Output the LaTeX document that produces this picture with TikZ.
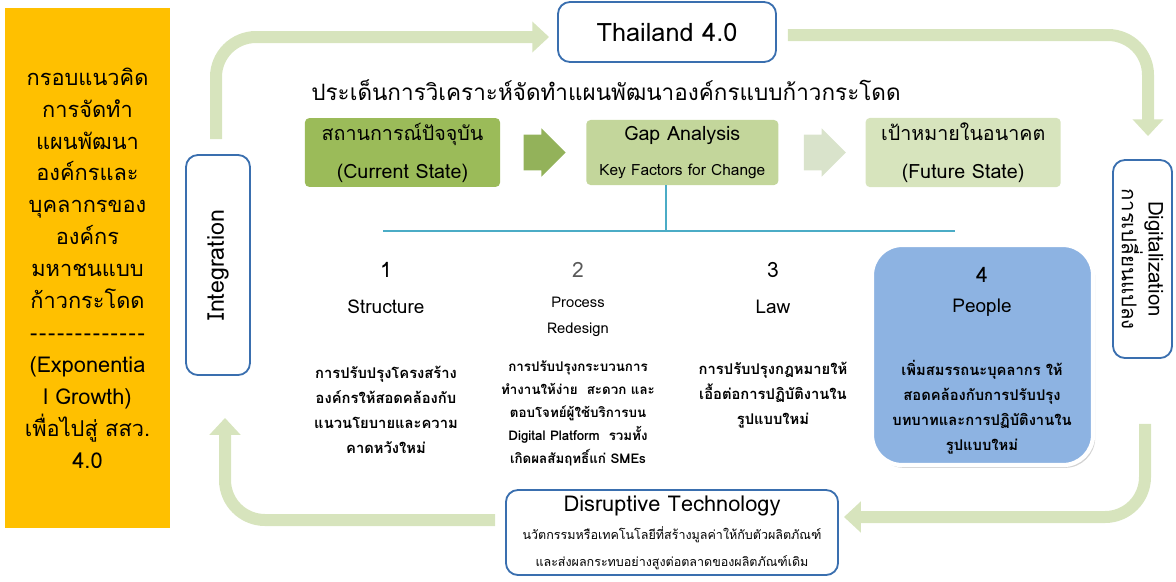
\documentclass[tikz,border=0pt]{standalone}
\usepackage{fontspec}
\setmainfont[Script=Thai]{Loma}
\usetikzlibrary{arrows.meta, positioning, shapes.arrows, shadows, calc}
\definecolor{loopGreen}{HTML}{D7E4BD}
\definecolor{curGreen}{HTML}{9BBB59}
\definecolor{gapGreen}{HTML}{C3D69B}
\definecolor{futGreen}{HTML}{D7E4BD}
\definecolor{arrGreen}{HTML}{93B25A}
\definecolor{arrPale}{HTML}{D9E3CB}
\definecolor{frameBlue}{HTML}{3A6FAF}
\definecolor{busBlue}{HTML}{4BACC6}
\definecolor{peopleBlue}{HTML}{8DB3E2}
\definecolor{noteYellow}{HTML}{FFC000}
\newcommand{\hy}{-\kern1.2pt}

\begin{document}
\begin{tikzpicture}[
    x=0.025cm, y=-0.025cm,
    frame/.style={draw=frameBlue, line width=1.3pt, rounded corners=0.3cm,
                  fill=white, align=center, inner sep=0pt},
    state/.style={rounded corners=3pt, minimum width=4.875cm,
                  minimum height=1.625cm, align=center,
                  font=\fontsize{14}{27}\selectfont},
    jump/.style={single arrow, single arrow head extend=0.16cm,
                 minimum height=1.05cm, inner xsep=0pt, inner ysep=0.4375cm},
    loop/.style={draw=loopGreen, line width=0.3cm, rounded corners=1cm,
                 -{Triangle[width=0.75cm, length=0.42cm]}},
    bus/.style={draw=busBlue, line width=1.6pt},
    num/.style={font=\fontsize{15}{18}\selectfont},
    facet/.style={font=\fontsize{13.5}{16}\selectfont},
    body/.style={align=center, font=\bfseries\fontsize{10.5}{17.8}\selectfont},
]
\useasboundingbox (0,0) rectangle (1176,581);

% Left note
\node[fill=noteYellow, minimum width=4.125cm, minimum height=13cm,
      align=center, font=\fontsize{15.5}{22.7}\selectfont] (note) at (87.5,268)
    {กรอบแนวคิด\\การจัดทำ\\แผนพัฒนา\\องค์กรและ\\บุคลากรของ\\องค์กร\\มหาชนแบบ\\ก้าวกระโดด\\\hy\hy\hy\hy\hy\hy\hy\hy\hy\hy\hy\hy-\\(Exponentia\\l Growth)\\เพื่อไปสู่ สสว.\\4.0};

% Frame boxes round the loop
\node[frame, minimum width=5.45cm, minimum height=1.5cm,
      font=\fontsize{18}{20}\selectfont] (thai4) at (667,32) {Thailand 4.0};
\node[frame, rotate=90, minimum width=5.5cm, minimum height=1.6cm,
      font=\fontsize{16.5}{18}\selectfont] (integ) at (218,265) {Integration};
\node[frame, rotate=-90, minimum width=4.95cm, minimum height=1.475cm,
      font=\fontsize{14.5}{17}\selectfont] (digit) at (1142.5,259)
    {Digitalization\\การเปลี่ยนแปลง};
\node[frame, minimum width=8.3cm, minimum height=2.125cm,
      font=\fontsize{8.9}{19}\selectfont] (disrupt) at (672,532.5)
    {{\fontsize{15.5}{19}\selectfont Disruptive Technology}\\[1pt]
     นวัตกรรมหรือเทคโนโลยีที่สร้างมูลค่าให้กับตัวผลิตภัณฑ์\\และส่งผลกระทบอย่างสูงต่อตลาดของผลิตภัณฑ์เดิม};

% Loop arrows (rotated frames: east/west are top/bottom)
\draw[loop] ($(integ.east)+(-2,-15)$) |- ($(thai4.west)+(-8,5)$);
\draw[loop] ($(thai4.east)+(11,3)$) -| ($(digit.west)+(5.5,-23)$);
\draw[loop] ($(digit.east)+(2.5,65)$) |- ($(disrupt.east)+(5,-15.5)$);
\draw[loop] ($(disrupt.west)+(-10,-12.5)$) -| ($(integ.west)+(7,42)$);

% Title and states
\node[font=\fontsize{16}{20}\selectfont] (title) at (606,90)
    {ประเด็นการวิเคราะห์จัดทำแผนพัฒนาองค์กรแบบก้าวกระโดด};
\node[state, fill=curGreen] (cur) at (402.5,152.5) {สถานการณ์ปัจจุบัน\\(Current State)};
\node[jump, fill=arrGreen, right=0.575cm of cur] (go1) {};
\node[state, fill=gapGreen, minimum width=4.8cm, right=0.5cm of go1,
      font=\fontsize{14}{25}\selectfont] (gap)
    {Gap Analysis\\{\fontsize{11}{25}\selectfont Key Factors for Change}};
\node[jump, fill=arrPale, right=0.625cm of gap] (go2) {};
\node[state, fill=futGreen, right=0.475cm of go2] (fut) {เป้าหมายในอนาคต\\(Future State)};

% Bus line
\coordinate (tee) at (666,231);
\coordinate (busL) at (383,231);
\coordinate (busR) at (955,231);
\draw[bus] (gap.south -| tee) -- (tee);
\draw[bus] (busL) -- (busR);

% People box
\node[fill=peopleBlue, draw=white, line width=3pt, rounded corners=0.75cm,
      minimum width=5.525cm, minimum height=5.5cm,
      drop shadow={opacity=0.35, shadow xshift=1.5pt, shadow yshift=-2pt}]
    (pbox) at (982.5,355) {};

% Key factors
\node[num] (n1) at (386,270) {1};
\node[facet] (t1) at (386,307) {Structure};
\node[body] (b1) at (386,409.5)
    {การปรับปรุงโครงสร้าง\\องค์กรให้สอดคล้องกับ\\แนวนโยบายและความ\\คาดหวังใหม่};
\node[num, text=black!65] (n2) at (578,270) {2};
\node[align=center, font=\fontsize{10.5}{18.5}\selectfont] (t2) at (578,317)
    {Process\\Redesign};
\node[body, font=\bfseries\fontsize{9.5}{16.4}\selectfont] (b2) at (578,413)
    {การปรับปรุงกระบวนการ\\ทำงานให้ง่าย~ สะดวก และ\\ตอบโจทย์ผู้ใช้บริการบน\\Digital Platform~ รวมทั้ง\\เกิดผลสัมฤทธิ์แก่ SMEs};
\node[num] (n3) at (773,270) {3};
\node[facet] (t3) at (773,307) {Law};
\node[body] (b3) at (773,395)
    {การปรับปรุงกฎหมายให้\\เอื้อต่อการปฏิบัติงานใน\\รูปแบบใหม่};
\node[num] (n4) at (982,275) {4};
\node[facet] (t4) at (982,308) {People};
\node[body] (b4) at (982,407)
    {เพิ่มสมรรถนะบุคลากร ให้\\สอดคล้องกับการปรับปรุง\\บทบาทและการปฏิบัติงานใน\\รูปแบบใหม่};
\end{tikzpicture}
\end{document}
